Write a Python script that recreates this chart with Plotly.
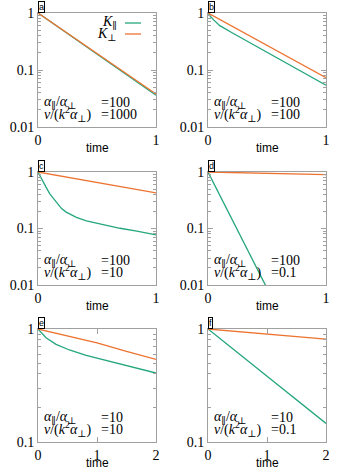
import plotly.graph_objects as go

# ---------------- data ----------------
t_a = [0, 1]
a_par = [1, 0.036]
a_perp = [1, 0.038]

t_b_par = [0, 0.01, 0.025, 0.05, 0.1, 0.2, 0.5, 1]
b_par = [1, 0.92, 0.85, 0.75, 0.60, 0.454, 0.204, 0.054]
t_b_perp = [0, 1]
b_perp = [1, 0.073]

t_c_par = [0, 0.03, 0.068, 0.1, 0.154, 0.2, 0.239, 0.325, 0.41, 0.553, 0.695, 0.838, 1]
c_par = [1, 0.745, 0.54, 0.41, 0.291, 0.225, 0.195, 0.157, 0.137, 0.116, 0.101, 0.09, 0.077]
t_c_perp = [0, 1]
c_perp = [1, 0.428]

t_d_par = [0, 0.6]
d_par = [1, 0.0034]
t_d_perp = [0, 1]
d_perp = [1, 0.9]

t_e_par = [0, 0.05, 0.136, 0.306, 0.533, 0.816, 1.099, 1.382, 1.665, 2]
e_par = [1, 0.93, 0.838, 0.731, 0.652, 0.585, 0.535, 0.49, 0.449, 0.408]
t_e_perp = [0, 0.5, 1, 1.5, 2]
e_perp = [1, 0.873, 0.752, 0.634, 0.539]

t_f = [0, 2]
f_par = [1, 0.146]
f_perp = [1, 0.815]

panel_letters = ["a", "b", "c", "d", "e", "f"]
ratio_labels = ["=100", "=100", "=100", "=100", "=10", "=10"]
nu_labels = ["=1000", "=100", "=10", "=0.1", "=10", "=0.1"]
x_ranges = [[0, 1], [0, 1], [0, 1], [0, 1], [0, 2], [0, 2]]
x_ticks = [[0, 1], [0, 1], [0, 1], [0, 1], [0, 1, 2], [0, 1, 2]]
y_ranges = [[-2, 0], [-2, 0], [-2, 0], [-2, 0], [-1, 0], [-1, 0]]
y_ticks_ad = [0.01, 0.1, 1]
y_ticklabels_ad = ["0.01", "0.1", "1"]
y_ticks_ef = [0.1, 1]
y_ticklabels_ef = ["0.1", "1"]

series_par = [(t_a, a_par), (t_b_par, b_par), (t_c_par, c_par),
              (t_d_par, d_par), (t_e_par, e_par), (t_f, f_par)]
series_perp = [(t_a, a_perp), (t_b_perp, b_perp), (t_c_perp, c_perp),
               (t_d_perp, d_perp), (t_e_perp, e_perp), (t_f, f_perp)]

GREEN = "#25a67e"
ORANGE = "#ec7330"
FRAME = "#a0a0a0"
SERIF = "Liberation Serif, DejaVu Serif, serif"
SANS = "Liberation Sans, Arial, sans-serif"

W, H = 341, 473
col_px = [(38, 156), (208, 326)]
row_px = [(13, 127), (172, 285), (329, 442)]

def px(x):
    return x / W

def py(y):
    return 1 - y / H

fig = go.Figure()
layout = dict(
    width=W, height=H,
    margin=dict(l=0, r=0, t=0, b=0, autoexpand=False),
    paper_bgcolor="white", plot_bgcolor="white",
    showlegend=False,
)
annotations = []
shapes = []

minor_decades = []
for k in [0.01, 0.1]:
    minor_decades += [m * k for m in range(2, 10)]

for i in range(6):
    r, c = divmod(i, 2)
    x0, x1 = col_px[c]
    y0, y1 = row_px[r]
    xa = "xaxis" if i == 0 else f"xaxis{i+1}"
    ya = "yaxis" if i == 0 else f"yaxis{i+1}"
    xr = "x" if i == 0 else f"x{i+1}"
    yr = "y" if i == 0 else f"y{i+1}"
    is_ef = i >= 4
    layout[xa] = dict(
        domain=[px(x0), px(x1)], anchor=yr, range=x_ranges[i], automargin=False,
        tickmode="array", tickvals=x_ticks[i], ticktext=[str(v) for v in x_ticks[i]],
        ticks="inside", ticklen=5, tickcolor=FRAME,
        showline=True, linecolor=FRAME, linewidth=1, mirror="ticks",
        showgrid=False, zeroline=False,
        tickfont=dict(family=SERIF, size=14, color="black"),
    )
    layout[ya] = dict(
        domain=[py(y1), py(y0)], anchor=xr, type="log", range=y_ranges[i], automargin=False,
        tickmode="array",
        tickvals=y_ticks_ef if is_ef else y_ticks_ad,
        ticktext=y_ticklabels_ef if is_ef else y_ticklabels_ad,
        ticks="inside", ticklen=5, tickcolor=FRAME,
        showline=True, linecolor=FRAME, linewidth=1, mirror="ticks",
        showgrid=False, zeroline=False,
        tickfont=dict(family=SERIF, size=14, color="black"),
        minor=dict(ticks="inside", ticklen=3, tickcolor=FRAME, showgrid=False,
                   tickmode="array",
                   tickvals=[v for v in minor_decades if (not is_ef or v > 0.1)]),
    )
    tp, vp = series_par[i]
    tq, vq = series_perp[i]
    fig.add_trace(go.Scatter(x=tp, y=vp, mode="lines", line=dict(color=GREEN, width=1.3),
                             xaxis=xr, yaxis=yr, name="K∥"))
    fig.add_trace(go.Scatter(x=tq, y=vq, mode="lines", line=dict(color=ORANGE, width=1.3),
                             xaxis=xr, yaxis=yr, name="K⊥"))

    # panel letter box
    annotations.append(dict(
        x=px(x0), y=py(y0), xref="paper", yref="paper", xanchor="left", yanchor="bottom",
        text=panel_letters[i], showarrow=False, font=dict(family=SANS, size=9, color="black"),
        bordercolor="black", borderwidth=1, borderpad=0, bgcolor="white",
    ))
    # x axis title
    annotations.append(dict(
        x=px((x0 + x1) / 2), y=py(y1 + 21), xref="paper", yref="paper",
        xanchor="center", yanchor="middle", text="time", showarrow=False,
        font=dict(family=SANS, size=12, color="black"),
    ))
    # parameter labels
    annotations.append(dict(
        x=px(x0 + 4), y=py(y1 - 25), xref="paper", yref="paper",
        xanchor="left", yanchor="middle",
        text="<i>α</i><sub>∥</sub>/<i>α</i><sub>⊥</sub>", showarrow=False,
        font=dict(family=SERIF, size=14, color="black"),
    ))
    annotations.append(dict(
        x=px(x0 + 61), y=py(y1 - 25), xref="paper", yref="paper",
        xanchor="left", yanchor="middle", text=ratio_labels[i], showarrow=False,
        font=dict(family=SERIF, size=14, color="black"),
    ))
    annotations.append(dict(
        x=px(x0 + 4), y=py(y1 - 13), xref="paper", yref="paper",
        xanchor="left", yanchor="middle",
        text="<i>ν</i>/(<i>k</i><sup>2</sup><i>α</i><sub>⊥</sub>)", showarrow=False,
        font=dict(family=SERIF, size=14, color="black"),
    ))
    annotations.append(dict(
        x=px(x0 + 61), y=py(y1 - 13), xref="paper", yref="paper",
        xanchor="left", yanchor="middle", text=nu_labels[i], showarrow=False,
        font=dict(family=SERIF, size=14, color="black"),
    ))

# legend (gnuplot style: text then sample line) in panel a
legend_items = [("<i>K</i><sub>∥</sub>", GREEN, 23), ("<i>K</i><sub>⊥</sub>", ORANGE, 34)]
for txt, col, yy in legend_items:
    annotations.append(dict(
        x=px(119), y=py(yy), xref="paper", yref="paper", xanchor="right", yanchor="middle",
        text=txt, showarrow=False, font=dict(family=SERIF, size=14, color="black"),
    ))
    shapes.append(dict(type="line", xref="paper", yref="paper",
                       x0=px(125), x1=px(141), y0=py(yy), y1=py(yy),
                       line=dict(color=col, width=1.3)))

layout["annotations"] = annotations
layout["shapes"] = shapes
fig.update_layout(**layout)
fig.write_html(
    "out.html",
    config={"displayModeBar": False},
    post_script="document.body.style.margin='0';document.body.style.padding='0';",
)
